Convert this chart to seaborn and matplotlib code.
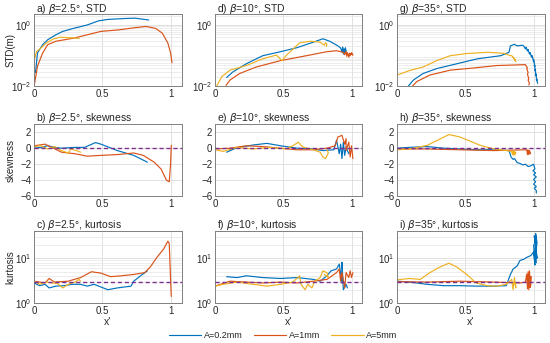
import numpy as np
import pandas as pd
import matplotlib
matplotlib.use("Agg")
import matplotlib.pyplot as plt
import seaborn as sns

# ==========================
# Data
# STD and kurtosis panels are stored as log10 values
# ==========================

labels = ["A=0.2mm", "A=1mm", "A=5mm"]
colors = ["#0072BD", "#D95319", "#EDB120"]
purple = "#7E2F8E"

# a) beta=2.5, STD (log10)
a_x02 = [0.01, 0.025, 0.063, 0.10, 0.16, 0.21, 0.29, 0.39, 0.47, 0.54, 0.67, 0.74, 0.84]
a_y02 = [-1.55, -0.91, -0.64, -0.48, -0.32, -0.21, -0.11, 0.0, 0.13, 0.18, 0.21, 0.22, 0.16]
a_x1 = [0.0, 0.025, 0.063, 0.10, 0.16, 0.29, 0.39, 0.49, 0.62, 0.74, 0.82, 0.89, 0.94, 0.98, 1.0, 1.01]
a_y1 = [-2.0, -1.34, -0.91, -0.64, -0.53, -0.43, -0.32, -0.21, -0.16, -0.09, -0.05, -0.11, -0.27, -0.59, -0.91, -1.23]
a_x5 = [0.0, 0.018, 0.05, 0.088, 0.14, 0.19, 0.24, 0.31, 0.33]
a_y5 = [-1.18, -0.86, -0.75, -0.59, -0.46, -0.40, -0.41, -0.43, -0.44]

# d) beta=10, STD (log10)
d_x02 = [0.085, 0.13, 0.23, 0.35, 0.48, 0.60, 0.72, 0.79, 0.84, 0.90, 0.92, 0.93, 0.935, 0.94, 0.945, 0.95, 0.955, 0.96, 0.95]
d_y02 = [-1.71, -1.53, -1.26, -1.0, -0.87, -0.74, -0.56, -0.45, -0.53, -0.68, -0.75, -0.88, -0.72, -0.95, -0.78, -0.90, -0.74, -0.86, -0.80]
d_x1 = [0.08, 0.11, 0.18, 0.30, 0.48, 0.67, 0.82, 0.89, 0.94, 0.95, 0.96, 0.965, 0.97, 0.98, 0.985, 0.99, 1.0, 1.01, 0.995]
d_y1 = [-1.97, -1.79, -1.58, -1.37, -1.16, -1.0, -0.87, -0.84, -0.89, -0.97, -0.86, -1.02, -0.90, -1.05, -0.92, -1.0, -0.90, -0.98, -0.93]
d_x5 = [0.01, 0.05, 0.11, 0.23, 0.35, 0.45, 0.49, 0.52, 0.57, 0.62, 0.70, 0.77, 0.80, 0.81, 0.82, 0.815]
d_y5 = [-2.0, -1.68, -1.47, -1.32, -1.10, -0.98, -1.16, -1.0, -0.79, -0.58, -0.53, -0.56, -0.66, -0.58, -0.63, -0.70]

# g) beta=35, STD (log10)
g_x02 = [0.08, 0.12, 0.19, 0.29, 0.44, 0.59, 0.76, 0.82, 0.83, 0.86, 0.88, 0.92, 0.93, 0.94, 0.945, 0.955, 0.96,
         0.97, 0.975, 0.985, 0.99, 1.0, 1.0, 1.01, 1.005, 1.015, 1.01, 1.02, 1.015, 1.025, 1.02, 1.03]
g_y02 = [-2.0, -1.79, -1.58, -1.42, -1.26, -1.10, -1.0, -0.89, -0.68, -0.63, -0.68, -0.66, -0.70, -0.78, -0.72,
         -0.85, -0.80, -0.95, -0.90, -1.05, -1.0, -1.20, -1.12, -1.35, -1.30, -1.50, -1.45, -1.65, -1.60, -1.80, -1.75, -1.90]
g_x1 = [0.11, 0.145, 0.24, 0.39, 0.56, 0.73, 0.88, 0.94, 0.955, 0.95, 0.96, 0.955, 0.965, 0.96, 0.97, 0.965]
g_y1 = [-2.0, -1.84, -1.63, -1.47, -1.40, -1.32, -1.30, -1.29, -1.40, -1.42, -1.55, -1.60, -1.75, -1.80, -1.90, -1.95]
g_x5 = [0.0, 0.10, 0.19, 0.29, 0.39, 0.51, 0.66, 0.78, 0.83, 0.84, 0.855, 0.85, 0.865, 0.86, 0.87]
g_y5 = [-1.63, -1.47, -1.37, -1.16, -1.0, -0.93, -0.89, -0.92, -1.0, -1.0, -1.08, -1.05, -1.15, -1.10, -1.20]

# b) beta=2.5, skewness
b_x02 = [0.0, 0.05, 0.10, 0.15, 0.20, 0.30, 0.37, 0.45, 0.49, 0.61, 0.73, 0.83]
b_y02 = [0.0, 0.1, 0.3, 0.1, 0.0, 0.1, 0.1, 0.7, 0.5, -0.3, -0.9, -1.75]
b_x1 = [0.0, 0.08, 0.13, 0.20, 0.30, 0.39, 0.49, 0.61, 0.73, 0.80, 0.88, 0.93, 0.97, 0.99, 1.0, 1.005]
b_y1 = [0.3, 0.5, 0.1, -0.5, -0.7, -1.0, -0.9, -0.8, -0.6, -0.9, -1.75, -2.6, -4.0, -4.2, -2.0, 0.35]
b_x5 = [0.0, 0.05, 0.10, 0.15, 0.20, 0.25, 0.27, 0.31, 0.34]
b_y5 = [0.2, 0.3, -0.1, 0.2, -0.3, -0.6, -0.1, -0.3, -0.5]

# e) beta=10, skewness
e_x02 = [0.085, 0.16, 0.28, 0.38, 0.48, 0.60, 0.72, 0.79, 0.87, 0.89, 0.91, 0.92, 0.93, 0.94, 0.95, 0.96, 0.98]
e_y02 = [-0.5, 0.05, 0.4, 0.6, 0.3, 0.0, -0.1, -0.3, -0.2, 1.0, -0.7, 0.5, -1.3, 0.75, -0.9, 0.1, -0.7]
e_x1 = [0.0, 0.11, 0.23, 0.35, 0.48, 0.60, 0.72, 0.82, 0.88, 0.90, 0.93, 0.95, 0.96, 0.96, 0.98, 0.99, 1.0, 1.01]
e_y1 = [-0.1, 0.0, 0.3, 0.2, 0.0, -0.2, -0.2, 0.0, 0.3, 1.4, 1.6, 0.5, 1.2, -0.3, 0.75, -1.1, 0.3, -1.3]
e_x5 = [0.0, 0.06, 0.16, 0.28, 0.40, 0.52, 0.57, 0.61, 0.63, 0.65, 0.72, 0.77, 0.79, 0.81, 0.83, 0.82]
e_y5 = [-0.2, -0.4, 0.1, -0.1, 0.1, -0.1, 0.3, 0.75, 0.35, 0.1, -0.2, -0.5, -1.1, -1.3, -0.6, -0.2]

# h) beta=35, skewness
h_x02 = [0.0, 0.09, 0.22, 0.34, 0.46, 0.58, 0.71, 0.82, 0.835, 0.85, 0.86, 0.88, 0.90, 0.92, 0.94, 0.96, 0.98, 1.0,
         1.01, 0.995, 1.015, 1.0, 1.02, 1.0, 1.015, 1.0, 1.02, 1.005, 1.02, 1.02]
h_y02 = [0.0, 0.1, 0.2, 0.0, -0.1, -0.2, -0.2, -0.3, -1.1, -1.4, -1.3, -1.8, -1.9, -2.1, -2.0, -2.3, -2.2, -2.0,
         -2.6, -2.8, -3.1, -3.3, -3.6, -3.9, -4.2, -4.5, -4.8, -5.0, -5.3, -5.6]
h_x1 = [0.0, 0.22, 0.46, 0.71, 0.95, 0.955, 0.96, 0.965, 0.97, 0.975, 0.97]
h_y1 = [-0.1, -0.1, -0.2, -0.3, -0.2, -0.8, -0.2, -0.8, -0.3, -0.7, -0.4]
h_x5 = [0.0, 0.09, 0.22, 0.38, 0.46, 0.61, 0.71, 0.80, 0.84, 0.845, 0.85, 0.855, 0.86, 0.865, 0.87]
h_y5 = [-0.2, -0.1, 0.35, 1.7, 1.4, 0.35, -0.1, -0.3, -0.4, -0.8, -0.3, -0.9, -0.4, -0.8, -0.5]

# c) beta=2.5, kurtosis (log10)
c_x02 = [0.0, 0.04, 0.08, 0.11, 0.16, 0.22, 0.28, 0.34, 0.39, 0.44, 0.49, 0.54, 0.61, 0.71, 0.73, 0.78, 0.83]
c_y02 = [0.45, 0.39, 0.42, 0.34, 0.38, 0.39, 0.42, 0.42, 0.38, 0.42, 0.36, 0.30, 0.34, 0.38, 0.49, 0.61, 0.72]
c_x1 = [0.0, 0.08, 0.11, 0.15, 0.25, 0.34, 0.42, 0.49, 0.56, 0.64, 0.73, 0.81, 0.85, 0.90, 0.95, 0.98, 0.99, 1.0, 1.005]
c_y1 = [0.49, 0.45, 0.55, 0.47, 0.49, 0.57, 0.70, 0.67, 0.59, 0.61, 0.64, 0.68, 0.80, 1.02, 1.21, 1.38, 1.33, 0.53, 0.15]
c_x5 = [0.0, 0.04, 0.09, 0.13, 0.17, 0.21, 0.25, 0.30, 0.33, 0.34]
c_y5 = [0.49, 0.42, 0.47, 0.45, 0.44, 0.34, 0.42, 0.47, 0.53, 0.49]

# f) beta=10, kurtosis (log10)
f_x02 = [0.085, 0.16, 0.23, 0.35, 0.48, 0.60, 0.72, 0.77, 0.82, 0.85, 0.89, 0.91, 0.93, 0.93, 0.94, 0.96, 0.97]
f_y02 = [0.59, 0.57, 0.61, 0.57, 0.55, 0.57, 0.53, 0.49, 0.61, 0.72, 0.76, 0.87, 0.45, 0.91, 0.30, 0.42, 0.34]
f_x1 = [0.0, 0.11, 0.23, 0.35, 0.48, 0.60, 0.72, 0.82, 0.89, 0.91, 0.92, 0.93, 0.95, 0.96, 0.98, 0.99, 1.0, 1.01]
f_y1 = [0.38, 0.49, 0.47, 0.45, 0.47, 0.45, 0.49, 0.53, 0.68, 0.76, 0.49, 0.68, 0.34, 0.68, 0.57, 0.72, 0.57, 0.68]
f_x5 = [0.0, 0.06, 0.16, 0.28, 0.38, 0.48, 0.57, 0.62, 0.63, 0.66, 0.68, 0.71, 0.73, 0.77, 0.79, 0.82, 0.83, 0.80]
f_y5 = [0.38, 0.42, 0.47, 0.42, 0.38, 0.42, 0.47, 0.61, 0.42, 0.30, 0.42, 0.34, 0.49, 0.57, 0.72, 0.68, 0.57, 0.64]

# i) beta=35, kurtosis (log10)
i_x02 = [0.0, 0.09, 0.22, 0.34, 0.46, 0.58, 0.71, 0.80, 0.83, 0.85, 0.88, 0.90, 0.93, 0.95, 0.98, 1.0, 1.01, 1.0,
         1.02, 1.01, 1.025, 1.005, 1.02, 1.015, 1.025, 1.01]
i_y02 = [0.49, 0.47, 0.42, 0.39, 0.39, 0.38, 0.38, 0.39, 0.64, 0.76, 0.83, 0.95, 0.98, 1.02, 1.06, 1.14, 0.85, 1.30,
         0.90, 1.45, 1.0, 1.50, 1.20, 1.55, 1.35, 0.95]
i_x1 = [0.0, 0.22, 0.46, 0.71, 0.90, 0.94, 0.95, 0.955, 0.96, 0.965, 0.97, 0.975, 0.98, 0.98]
i_y1 = [0.48, 0.47, 0.49, 0.47, 0.45, 0.47, 0.65, 0.32, 0.70, 0.30, 0.72, 0.35, 0.60, 0.40]
i_x5 = [0.0, 0.09, 0.17, 0.24, 0.31, 0.38, 0.44, 0.51, 0.58, 0.66, 0.73, 0.80, 0.84, 0.85, 0.86, 0.87, 0.865]
i_y5 = [0.52, 0.55, 0.53, 0.68, 0.80, 0.89, 0.80, 0.64, 0.45, 0.39, 0.38, 0.42, 0.53, 0.30, 0.57, 0.34, 0.45]

# ==========================
# Build tables
# ==========================

def make_df(series, log=False):
    rows = []
    for lab, (xs, ys) in zip(labels, series):
        for k, (xv, yv) in enumerate(zip(xs, ys)):
            rows.append({"x": xv, "y": 10 ** yv if log else yv, "A": lab, "order": k})
    return pd.DataFrame(rows)

panels = [
    ("a", 2.5, "STD", make_df([(a_x02, a_y02), (a_x1, a_y1), (a_x5, a_y5)], log=True)),
    ("d", 10, "STD", make_df([(d_x02, d_y02), (d_x1, d_y1), (d_x5, d_y5)], log=True)),
    ("g", 35, "STD", make_df([(g_x02, g_y02), (g_x1, g_y1), (g_x5, g_y5)], log=True)),
    ("b", 2.5, "skewness", make_df([(b_x02, b_y02), (b_x1, b_y1), (b_x5, b_y5)])),
    ("e", 10, "skewness", make_df([(e_x02, e_y02), (e_x1, e_y1), (e_x5, e_y5)])),
    ("h", 35, "skewness", make_df([(h_x02, h_y02), (h_x1, h_y1), (h_x5, h_y5)])),
    ("c", 2.5, "kurtosis", make_df([(c_x02, c_y02), (c_x1, c_y1), (c_x5, c_y5)], log=True)),
    ("f", 10, "kurtosis", make_df([(f_x02, f_y02), (f_x1, f_y1), (f_x5, f_y5)], log=True)),
    ("i", 35, "kurtosis", make_df([(i_x02, i_y02), (i_x1, i_y1), (i_x5, i_y5)], log=True)),
]

# ==========================
# Plot
# ==========================

sns.set_style("white")
plt.rcParams["font.family"] = ["Liberation Sans", "DejaVu Sans"]
plt.rcParams["font.size"] = 7
plt.rcParams["mathtext.fontset"] = "dejavusans"

fig = plt.figure(figsize=(5.5, 3.43), dpi=100)

lefts = [0.062, 0.391, 0.722]
bottoms = [0.748, 0.428, 0.116]
w, h = 0.268, 0.21

palette = dict(zip(labels, colors))
ylabels = {"STD": "STD(m)", "skewness": "skewness", "kurtosis": "kurtosis"}

for n, (letter, beta, kind, df) in enumerate(panels):
    row, col = n // 3, n % 3
    ax = fig.add_axes([lefts[col], bottoms[row], w, h])
    sns.lineplot(data=df, x="x", y="y", hue="A", units="A", estimator=None, sort=False,
                 palette=palette, linewidth=0.85, ax=ax, legend=(n == 0))
    if kind == "STD":
        ax.set_yscale("log")
        ax.set_ylim(0.01, 2.2)
        ax.set_yticks([1e-2, 1e0])
    elif kind == "kurtosis":
        ax.set_yscale("log")
        ax.set_ylim(1, 40)
        ax.set_yticks([1e0, 1e1])
        ax.axhline(3, color=purple, ls="--", lw=1.0, dashes=(3, 2), zorder=3)
    else:
        ax.set_ylim(-6, 3)
        ax.set_yticks([-6, -4, -2, 0, 2])
        ax.axhline(0, color=purple, ls="--", lw=1.0, dashes=(3, 2), zorder=3)
    ax.set_xlim(0, 1.08)
    ax.set_xticks([0, 0.5, 1])
    ax.set_xticklabels(["0", "0.5", "1"])
    ax.grid(True, which="major", color="#dcdcdc", lw=0.6)
    if kind != "skewness":
        ax.grid(True, which="minor", axis="y", color="#e6e6e6", lw=0.5)
    ax.tick_params(direction="in", length=2, width=0.5, colors="#262626", labelsize=7, pad=2)
    ax.tick_params(which="minor", direction="in", length=1, width=0.4)
    for s in ax.spines.values():
        s.set_color("#808080")
        s.set_linewidth(0.7)
    bstr = f"{beta:g}"
    ax.set_title(f"{letter}) $\\beta$={bstr}°, {kind}", loc="left", fontsize=7.5, pad=2, x=0.01)
    if col == 0:
        ax.set_ylabel(ylabels[kind], fontsize=7)
        ax.yaxis.set_label_coords(-0.125, 0.5)
    else:
        ax.set_ylabel("")
    ax.set_xlabel("x'" if row == 2 else "", fontsize=7.5, labelpad=1)
    if n == 0:
        handles, labs = ax.get_legend_handles_labels()
        ax.get_legend().remove()

fig.legend(handles, labs, loc="lower center", bbox_to_anchor=(0.515, -0.015), ncol=3,
           frameon=False, fontsize=6.5, handlelength=3.6, handletextpad=0.3, columnspacing=1.2)

fig.savefig("out.png", dpi=100)
